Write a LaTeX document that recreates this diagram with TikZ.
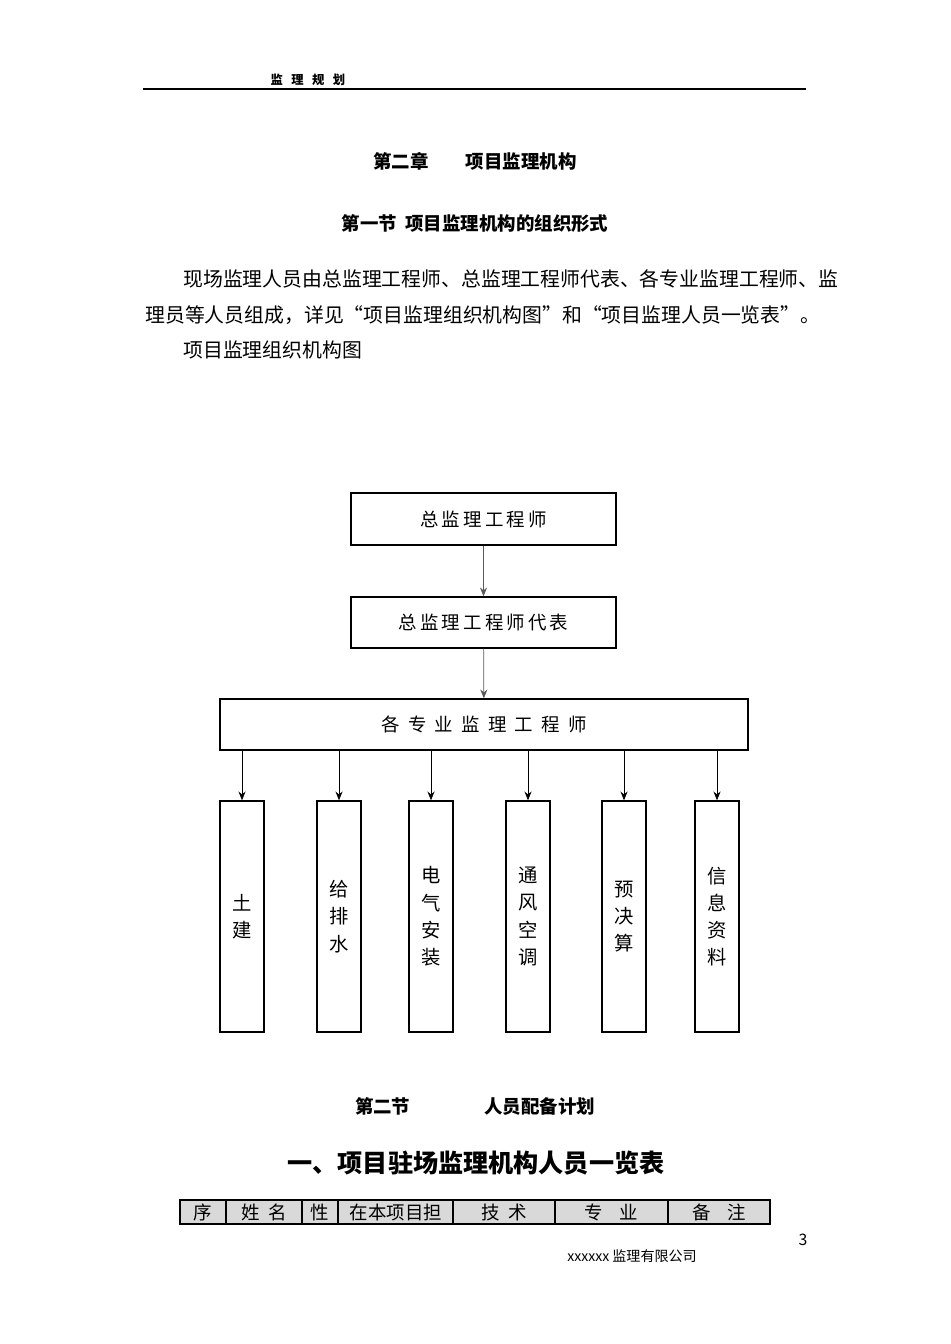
\documentclass[tikz,border=0pt]{standalone}
\usepackage{fontspec}
\setmainfont{Noto Sans CJK SC}
\usetikzlibrary{arrows.meta}
\tikzset{
    orgbox/.style={
        rectangle, draw, line width=0.8pt,
        inner sep=0pt, font=\fontsize{10.5}{12}\selectfont
    },
    tallbox/.style={
        orgbox, minimum width=0.88cm, minimum height=4.62cm,
        align=center, font=\fontsize{11}{15.5}\selectfont
    },
    body/.style={anchor=west, inner sep=0pt, font=\fontsize{11.3}{13}\selectfont},
    heading/.style={inner sep=0pt, font=\fontsize{10.5}{12}\selectfont\bfseries},
    cell/.style={inner sep=0pt, font=\fontsize{10.5}{12}\selectfont}
}

\begin{document}
\begin{tikzpicture}[x=0.02cm, y=-0.02cm, >={Stealth[length=5pt,width=4pt]}]
    \useasboundingbox (0,0) rectangle (950,1344);

    % Page header
    \node[inner sep=0pt, font=\fontsize{7}{8}\selectfont\bfseries] (head) at (308,80)
        {监~~~理~~~规~~~划};
    \draw[line width=0.9pt] (143,89) -- (806,89);

    % Headings and text
    \node[heading] (chap) at (475,161) {第二章\hspace{2em}项目监理机构};
    \node[heading] (sec1) at (475,223) {第一节~~项目监理机构的组织形式};
    \node[body] (par1) at (183,279)
        {现场监理人员由总监理工程师、总监理工程师代表、各专业监理工程师、监};
    \node[body] (par2) at (145,315)
        {理员等人员组成，详见“项目监理组织机构图”和“项目监理人员一览表”。};
    \node[body] (cap) at (183,350) {项目监理组织机构图};

    % Organisation chart
    \node[orgbox, minimum width=5.3cm, minimum height=1.04cm] (chief) at (483.5,519)
        {总\,监\,理\,工\,程\,师};
    \node[orgbox, minimum width=5.3cm, minimum height=1.02cm] (deputy) at (483.5,622.5)
        {总\,监\,理\,工\,程\,师\,代\,表};
    \node[orgbox, minimum width=10.56cm, minimum height=1.02cm] (spec) at (484,724.5)
        {各~~专~~业~~监~~理~~工~~程~~师};

    \node[tallbox] (t1) at (242,916.5) {土\\建};
    \node[tallbox] (t2) at (339,916.5) {给\\排\\水};
    \node[tallbox] (t3) at (431,916.5) {电\\气\\安\\装};
    \node[tallbox] (t4) at (528,916.5) {通\\风\\空\\调};
    \node[tallbox] (t5) at (624,916.5) {预\\决\\算};
    \node[tallbox] (t6) at (717,916.5) {信\\息\\资\\料};

    \draw[->, gray!70!black] (chief) -- (deputy);
    \draw[->, gray!70!black] (deputy) -- (spec);
    \foreach \t in {t1,t2,t3,t4,t5,t6}
        \draw[->] (spec.south -| \t) -- (\t);

    % Staffing plan
    \node[heading] (sec2) at (475,1106) {第二节\hspace{4em}人员配备计划};
    \node[inner sep=0pt, font=\fontsize{14.3}{16}\selectfont\bfseries] (title) at (476,1163)
        {一、项目驻场监理机构人员一览表};

    % Table header row
    \draw[fill=gray!30, line width=1.6pt] (180,1200) rectangle (770,1224);
    \foreach \x in {226,302,338,453,555,668}
        \draw[line width=0.6pt] (\x,1200) -- (\x,1224);
    \node[cell] (c1) at (203,1212) {序};
    \node[cell] (c2) at (264,1212) {姓~~名};
    \node[cell] (c3) at (320,1212) {性};
    \node[cell] (c4) at (396,1212) {在本项目担};
    \node[cell] (c5) at (504,1212) {技~~术};
    \node[cell] (c6) at (611,1212) {专~~~~业};
    \node[cell] (c7) at (719,1212) {备~~~~注};

    % Footer
    \node[inner sep=0pt, font=\fontsize{9}{10}\selectfont] (pnum) at (803,1240) {3};
    \node[inner sep=0pt, font=\fontsize{8}{10}\selectfont] (firm) at (632,1256)
        {xxxxxx 监理有限公司};
\end{tikzpicture}
\end{document}
